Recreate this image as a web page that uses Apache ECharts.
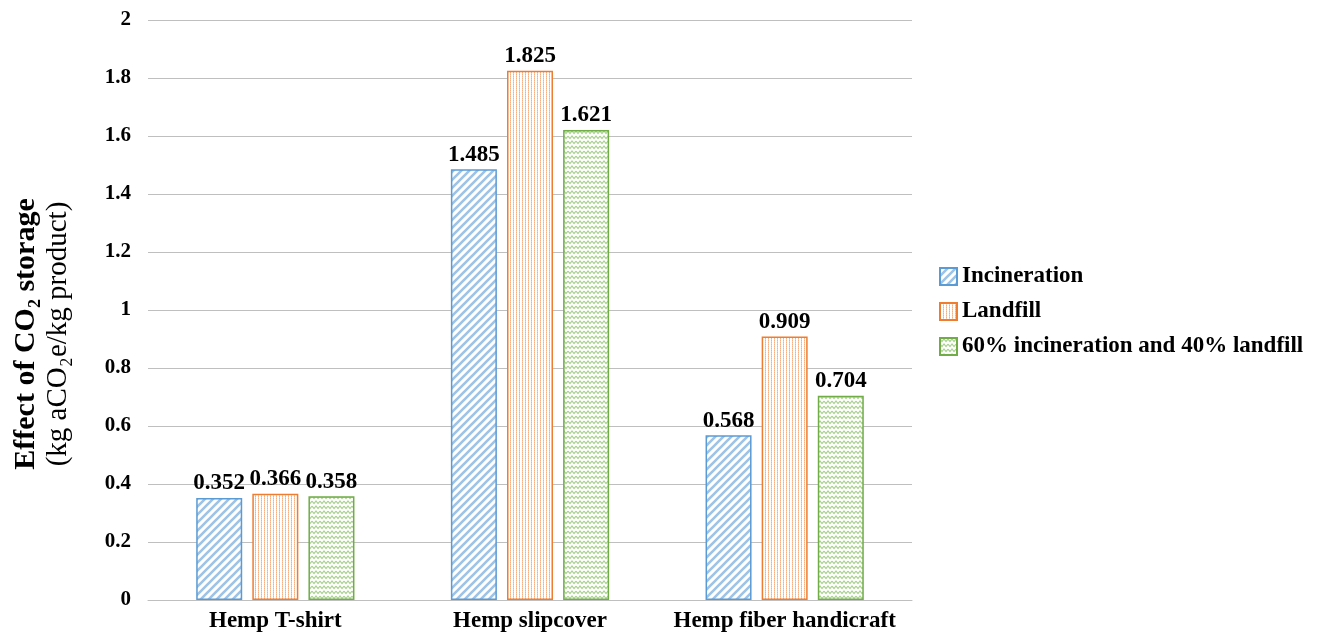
<!DOCTYPE html>
<html>
<head>
<meta charset="utf-8">
<script src="https://cdn.jsdelivr.net/npm/echarts@6/dist/echarts.min.js"></script>
<style>
  html, body { margin: 0; padding: 0; background: #fff; }
  #chart { width: 1328px; height: 635px; }
</style>
</head>
<body>
<div id="chart"></div>
<script>
  var categories = ['Hemp T-shirt', 'Hemp slipcover', 'Hemp fiber handicraft'];
  var incineration = [0.352, 1.485, 0.568];
  var landfill = [0.366, 1.825, 0.909];
  var mixed = [0.358, 1.621, 0.704];
  var seriesNames = ['Incineration', 'Landfill', '60% incineration and 40% landfill'];
  var yTicks = [0, 0.2, 0.4, 0.6, 0.8, 1, 1.2, 1.4, 1.6, 1.8, 2];

  // pattern tiles for the bars
  function makeTile(w, h, draw) {
    var c = document.createElement('canvas');
    c.width = w; c.height = h;
    var ctx = c.getContext('2d');
    ctx.fillStyle = '#fff';
    ctx.fillRect(0, 0, w, h);
    draw(ctx);
    return c;
  }
  var stripes = makeTile(8, 8, function (ctx) {
    ctx.strokeStyle = '#9dc3e6';
    ctx.lineWidth = 2.6;
    ctx.beginPath();
    ctx.moveTo(-2, 10); ctx.lineTo(10, -2);
    ctx.moveTo(-2, 2); ctx.lineTo(2, -2);
    ctx.moveTo(6, 10); ctx.lineTo(10, 6);
    ctx.stroke();
  });
  var dots = makeTile(3, 2, function (ctx) {
    ctx.fillStyle = '#f8cbad';
    ctx.fillRect(0, 0, 1, 2);
    ctx.fillStyle = '#f4b183';
    ctx.fillRect(0, 0, 1, 1);
  });
  var zigzag = makeTile(8, 5, function (ctx) {
    ctx.strokeStyle = '#a9d18e';
    ctx.lineWidth = 1.2;
    ctx.beginPath();
    ctx.moveTo(0, 1); ctx.lineTo(2, 3.5); ctx.lineTo(4, 1); ctx.lineTo(6, 3.5); ctx.lineTo(8, 1);
    ctx.stroke();
  });

  var fills = [stripes, dots, zigzag];
  var borders = ['#5b9bd5', '#ed7d31', '#70ad47'];
  var datas = [incineration, landfill, mixed];

  var series = seriesNames.map(function (n, i) {
    return {
      name: n,
      type: 'bar',
      barWidth: 46,
      barGap: '22%',
      data: datas[i],
      itemStyle: {
        color: { image: fills[i], repeat: 'repeat' },
        borderColor: borders[i],
        borderWidth: 1.5
      },
      label: {
        show: true,
        position: 'top',
        distance: 3,
        color: '#000',
        fontFamily: 'Liberation Serif',
        fontWeight: 'bold',
        fontSize: 23,
        formatter: function (p) { return p.value.toFixed(3); }
      }
    };
  });

  var myChart = echarts.init(document.getElementById('chart'));
  var option = {
    backgroundColor: '#fff',
    animation: false,
    grid: { left: 148, right: 416, top: 20, bottom: 35 },
    legend: {
      orient: 'vertical',
      left: 934,
      top: 260,
      icon: 'rect',
      itemWidth: 17,
      itemHeight: 17,
      itemGap: 12,
      data: seriesNames,
      textStyle: {
        color: '#000',
        fontFamily: 'Liberation Serif',
        fontWeight: 'bold',
        fontSize: 23
      }
    },
    xAxis: {
      type: 'category',
      data: categories,
      axisTick: { show: false },
      axisLine: { lineStyle: { color: '#bfbfbf', width: 1 } },
      axisLabel: {
        interval: 0,
        color: '#000',
        fontFamily: 'Liberation Serif',
        fontWeight: 'bold',
        fontSize: 23,
        margin: 10
      }
    },
    yAxis: {
      type: 'value',
      min: 0,
      max: 2,
      interval: 0.2,
      axisLine: { show: false },
      axisTick: { show: false },
      splitLine: { lineStyle: { color: '#bfbfbf', width: 1 } },
      axisLabel: {
        color: '#000',
        fontFamily: 'Liberation Serif',
        fontWeight: 'bold',
        fontSize: 21,
        margin: 17,
        formatter: function (v) {
          var t = yTicks.filter(function (k) { return Math.abs(k - v) < 1e-9; });
          return t.length ? String(t[0]) : '';
        }
      },
      name: '{a|Effect of CO₂ storage}\n{b|(kg aCO₂e/kg product)}',
      nameLocation: 'middle',
      nameRotate: 90,
      nameGap: 74,
      nameTextStyle: {
        color: '#000',
        fontFamily: 'Liberation Serif',
        padding: [0, 48, 0, 0],
        rich: {
          a: { fontFamily: 'Liberation Serif', fontWeight: 'bold', fontSize: 30, lineHeight: 33, color: '#000' },
          b: { fontFamily: 'Liberation Serif', fontSize: 29, lineHeight: 31, color: '#000' }
        }
      }
    },
    series: series
  };
  myChart.setOption(option);
</script>
</body>
</html>
